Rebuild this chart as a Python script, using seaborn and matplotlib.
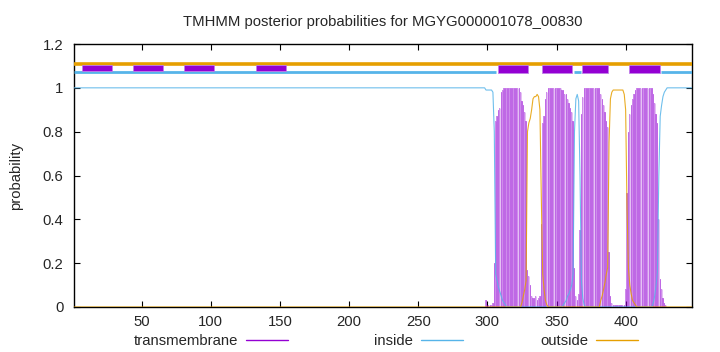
import numpy as np
import pandas as pd
import matplotlib
matplotlib.use("Agg")
import matplotlib.pyplot as plt
import seaborn as sns
from matplotlib.lines import Line2D
from matplotlib.patches import Rectangle

# ---------------- data ----------------
seq_length = 448
region_start = 299  # first residue of the per-residue arrays below

tm_region = [
    0.03, 0.01, 0.01, 0.01, 0.01, 0.02, 0.20, 0.85, 0.87, 0.90,          # 299-308
    0.91, 0.98, 0.99, 1.0, 1.0, 1.0, 1.0, 1.0, 1.0, 1.0,                 # 309-318
    1.0, 1.0, 1.0, 1.0, 1.0, 0.98, 0.94, 0.92, 0.89, 0.85,               # 319-328
    0.17, 0.14, 0.10, 0.05, 0.04, 0.04, 0.05, 0.03, 0.04, 0.05,          # 329-338
    0.38, 0.84, 0.87, 0.95, 0.98, 1.0, 1.0, 1.0, 1.0, 1.0,               # 339-348
    1.0, 1.0, 1.0, 1.0, 1.0, 0.99, 0.99, 0.97, 0.97, 0.95,               # 349-358
    0.93, 0.91, 0.89, 0.85, 0.18, 0.05, 0.03, 0.06, 0.35, 0.88,          # 359-368
    0.96, 1.0, 1.0, 1.0, 1.0, 1.0, 1.0, 1.0, 1.0, 1.0,                   # 369-378
    1.0, 1.0, 1.0, 0.97, 0.95, 0.92, 0.89, 0.85, 0.82, 0.25,             # 379-388
    0.05, 0.02, 0.01, 0.01, 0.01, 0.01, 0.01, 0.01, 0.01, 0.01,          # 389-398
    0.01, 0.08, 0.52, 0.80, 0.88, 0.92, 0.95, 0.97, 0.99, 1.0,           # 399-408
    1.0, 1.0, 1.0, 1.0, 1.0, 1.0, 1.0, 1.0, 1.0, 1.0,                    # 409-418
    1.0, 0.97, 0.93, 0.88, 0.84, 0.40, 0.13, 0.08, 0.04, 0.02,           # 419-428
    0.01, 0.0,                                                           # 429-430
]

inside_region = [
    0.99, 0.99, 0.99, 0.99, 0.99, 0.98, 0.80, 0.15, 0.12, 0.09,          # 299-308
    0.07, 0.05, 0.03, 0.02, 0.01, 0.0, 0.0, 0.0, 0.0, 0.0,               # 309-318
    0.0, 0.0, 0.0, 0.0, 0.0, 0.0, 0.0, 0.0, 0.0, 0.0,                    # 319-328
    0.0, 0.0, 0.0, 0.0, 0.0, 0.0, 0.0, 0.0, 0.0, 0.0,                    # 329-338
    0.0, 0.0, 0.0, 0.0, 0.0, 0.0, 0.0, 0.0, 0.0, 0.0,                    # 339-348
    0.0, 0.0, 0.0, 0.0, 0.0, 0.0, 0.01, 0.02, 0.03, 0.05,                # 349-358
    0.06, 0.08, 0.10, 0.15, 0.80, 0.95, 0.97, 0.94, 0.60, 0.12,          # 359-368
    0.04, 0.01, 0.0, 0.0, 0.0, 0.0, 0.0, 0.0, 0.0, 0.0,                  # 369-378
    0.0, 0.0, 0.0, 0.0, 0.0, 0.0, 0.0, 0.0, 0.0, 0.0,                    # 379-388
    0.0, 0.0, 0.0, 0.0, 0.0, 0.0, 0.0, 0.0, 0.0, 0.0,                    # 389-398
    0.0, 0.0, 0.0, 0.0, 0.0, 0.0, 0.0, 0.0, 0.0, 0.0,                    # 399-408
    0.0, 0.0, 0.0, 0.0, 0.0, 0.0, 0.0, 0.0, 0.0, 0.0,                    # 409-418
    0.0, 0.02, 0.05, 0.10, 0.16, 0.60, 0.87, 0.92, 0.96, 0.98,           # 419-428
    0.99, 1.0,                                                           # 429-430
]

outside_region = [
    0.0, 0.0, 0.0, 0.0, 0.0, 0.0, 0.0, 0.0, 0.0, 0.0,                    # 299-308
    0.0, 0.0, 0.0, 0.0, 0.0, 0.0, 0.0, 0.0, 0.0, 0.0,                    # 309-318
    0.0, 0.0, 0.0, 0.0, 0.0, 0.0, 0.02, 0.05, 0.08, 0.12,                # 319-328
    0.80, 0.84, 0.86, 0.90, 0.95, 0.96, 0.96, 0.97, 0.96, 0.90,          # 329-338
    0.50, 0.15, 0.08, 0.03, 0.01, 0.0, 0.0, 0.0, 0.0, 0.0,               # 339-348
    0.0, 0.0, 0.0, 0.0, 0.0, 0.0, 0.0, 0.0, 0.0, 0.0,                    # 349-358
    0.0, 0.0, 0.0, 0.0, 0.0, 0.0, 0.0, 0.0, 0.0, 0.0,                    # 359-368
    0.0, 0.0, 0.0, 0.0, 0.0, 0.0, 0.0, 0.0, 0.0, 0.0,                    # 369-378
    0.0, 0.0, 0.0, 0.03, 0.05, 0.08, 0.11, 0.15, 0.18, 0.75,             # 379-388
    0.95, 0.98, 0.99, 0.99, 0.99, 0.99, 0.99, 0.99, 0.99, 0.99,          # 389-398
    0.97, 0.90, 0.45, 0.18, 0.10, 0.06, 0.03, 0.02, 0.01, 0.0,           # 399-408
    0.0, 0.0, 0.0, 0.0, 0.0, 0.0, 0.0, 0.0, 0.0, 0.0,                    # 409-418
    0.0, 0.0, 0.0, 0.0, 0.0, 0.0, 0.0, 0.0, 0.0, 0.0,                    # 419-428
    0.0, 0.0,                                                            # 429-430
]

# predicted topology (residue ranges)
tm_boxes_small = [(6.5, 28.5), (43.5, 65.5), (80.5, 102.5), (132.5, 154.5)]
tm_boxes_large = [(307.5, 329.5), (339.5, 361.5), (368.5, 387.5), (402.5, 424.5)]
inside_segments = [(1, 306.5), (362.5, 367.5), (425.5, 448)]
outside_segments = [(1, 448)]

title = "TMHMM posterior probabilities for MGYG000001078_00830"
legend_labels = ["transmembrane", "inside", "outside"]
x_ticks = [50, 100, 150, 200, 250, 300, 350, 400]
y_ticks = [0, 0.2, 0.4, 0.6, 0.8, 1.0, 1.2]
y_tick_labels = ["0", "0.2", "0.4", "0.6", "0.8", "1", "1.2"]

# ---------------- build full series ----------------
residues = np.arange(1, seq_length + 1)
tm = np.zeros(seq_length)
inside = np.ones(seq_length)
outside = np.zeros(seq_length)
i0 = region_start - 1
tm[i0:i0 + len(tm_region)] = tm_region
inside[i0:i0 + len(inside_region)] = inside_region
outside[i0:i0 + len(outside_region)] = outside_region
df = pd.DataFrame({"pos": residues, "tm": tm, "inside": inside, "outside": outside})

# ---------------- style ----------------
sns.set_theme(style="ticks")
plt.rcParams["font.family"] = ["Liberation Sans", "DejaVu Sans"]
plt.rcParams["font.size"] = 10.7

C_TM = "#9400d3"
C_IN = "#56b4e9"
C_OUT = "#e69f00"

fig = plt.figure(figsize=(7.2, 3.52), dpi=100)
ax = fig.add_axes([74 / 720, 1 - 307 / 352, (692 - 74) / 720, (307 - 44) / 352])

# TM posterior as impulses
ax.bar(df["pos"], df["tm"], width=0.9, color=C_TM, alpha=0.45, linewidth=0, zorder=1)
ax.vlines(df["pos"], 0, df["tm"], color=C_TM, linewidth=0.5, alpha=0.35, zorder=1)

sns.lineplot(data=df, x="pos", y="inside", color=C_IN, linewidth=0.8, alpha=0.85, ax=ax, zorder=3)
sns.lineplot(data=df, x="pos", y="outside", color=C_OUT, linewidth=0.8, alpha=0.85, ax=ax, zorder=3)

# topology lines / boxes
for a, b in outside_segments:
    ax.plot([a, b], [1.11, 1.11], color=C_OUT, linewidth=2.6, solid_capstyle="butt", zorder=4)
for a, b in inside_segments:
    ax.plot([a, b], [1.072, 1.072], color=C_IN, linewidth=2.0, solid_capstyle="butt", zorder=4)
for a, b in tm_boxes_small:
    ax.add_patch(Rectangle((a, 1.079), b - a, 1.102 - 1.079, facecolor=C_TM,
                           edgecolor="#c080e8", linewidth=0.6, zorder=5))
for a, b in tm_boxes_large:
    ax.add_patch(Rectangle((a, 1.067), b - a, 1.102 - 1.067, facecolor=C_TM,
                           edgecolor="#c080e8", linewidth=0.6, zorder=5))

ax.set_xlim(1, seq_length)
ax.set_ylim(0, 1.2)
ax.set_xticks(x_ticks)
ax.set_xticklabels([str(t) for t in x_ticks])
ax.set_yticks(y_ticks)
ax.set_yticklabels(y_tick_labels)
ax.tick_params(direction="in", length=4, width=0.8, color="black",
               top=True, right=True, labelsize=10.7)
ax.tick_params(axis="y", pad=7.5)
ax.tick_params(axis="x", pad=6)
for s in ax.spines.values():
    s.set_visible(True)
    s.set_color("black")
    s.set_linewidth(1.0)

ax.set_xlabel("")
ax.set_ylabel("probability", fontsize=10.7)
ax.yaxis.set_label_coords((23 - 74) / 618, 0.5)
ax.set_title(title, fontsize=10.7, pad=13)

# gnuplot-style key: label right-aligned, sample line after it
colors = [C_TM, C_IN, C_OUT]
line_ends = [288, 463, 638]
for lab, col, xe in zip(legend_labels, colors, line_ends):
    fig.legend([Line2D([0], [0], color=col, lw=1.0)], [lab], loc="center right",
               bbox_to_anchor=(xe / 720, 1 - 341 / 352), markerfirst=False,
               frameon=False, handlelength=2.8, handletextpad=0.55,
               borderpad=0, borderaxespad=0, fontsize=10.7)

fig.savefig("out.png", dpi=100)
